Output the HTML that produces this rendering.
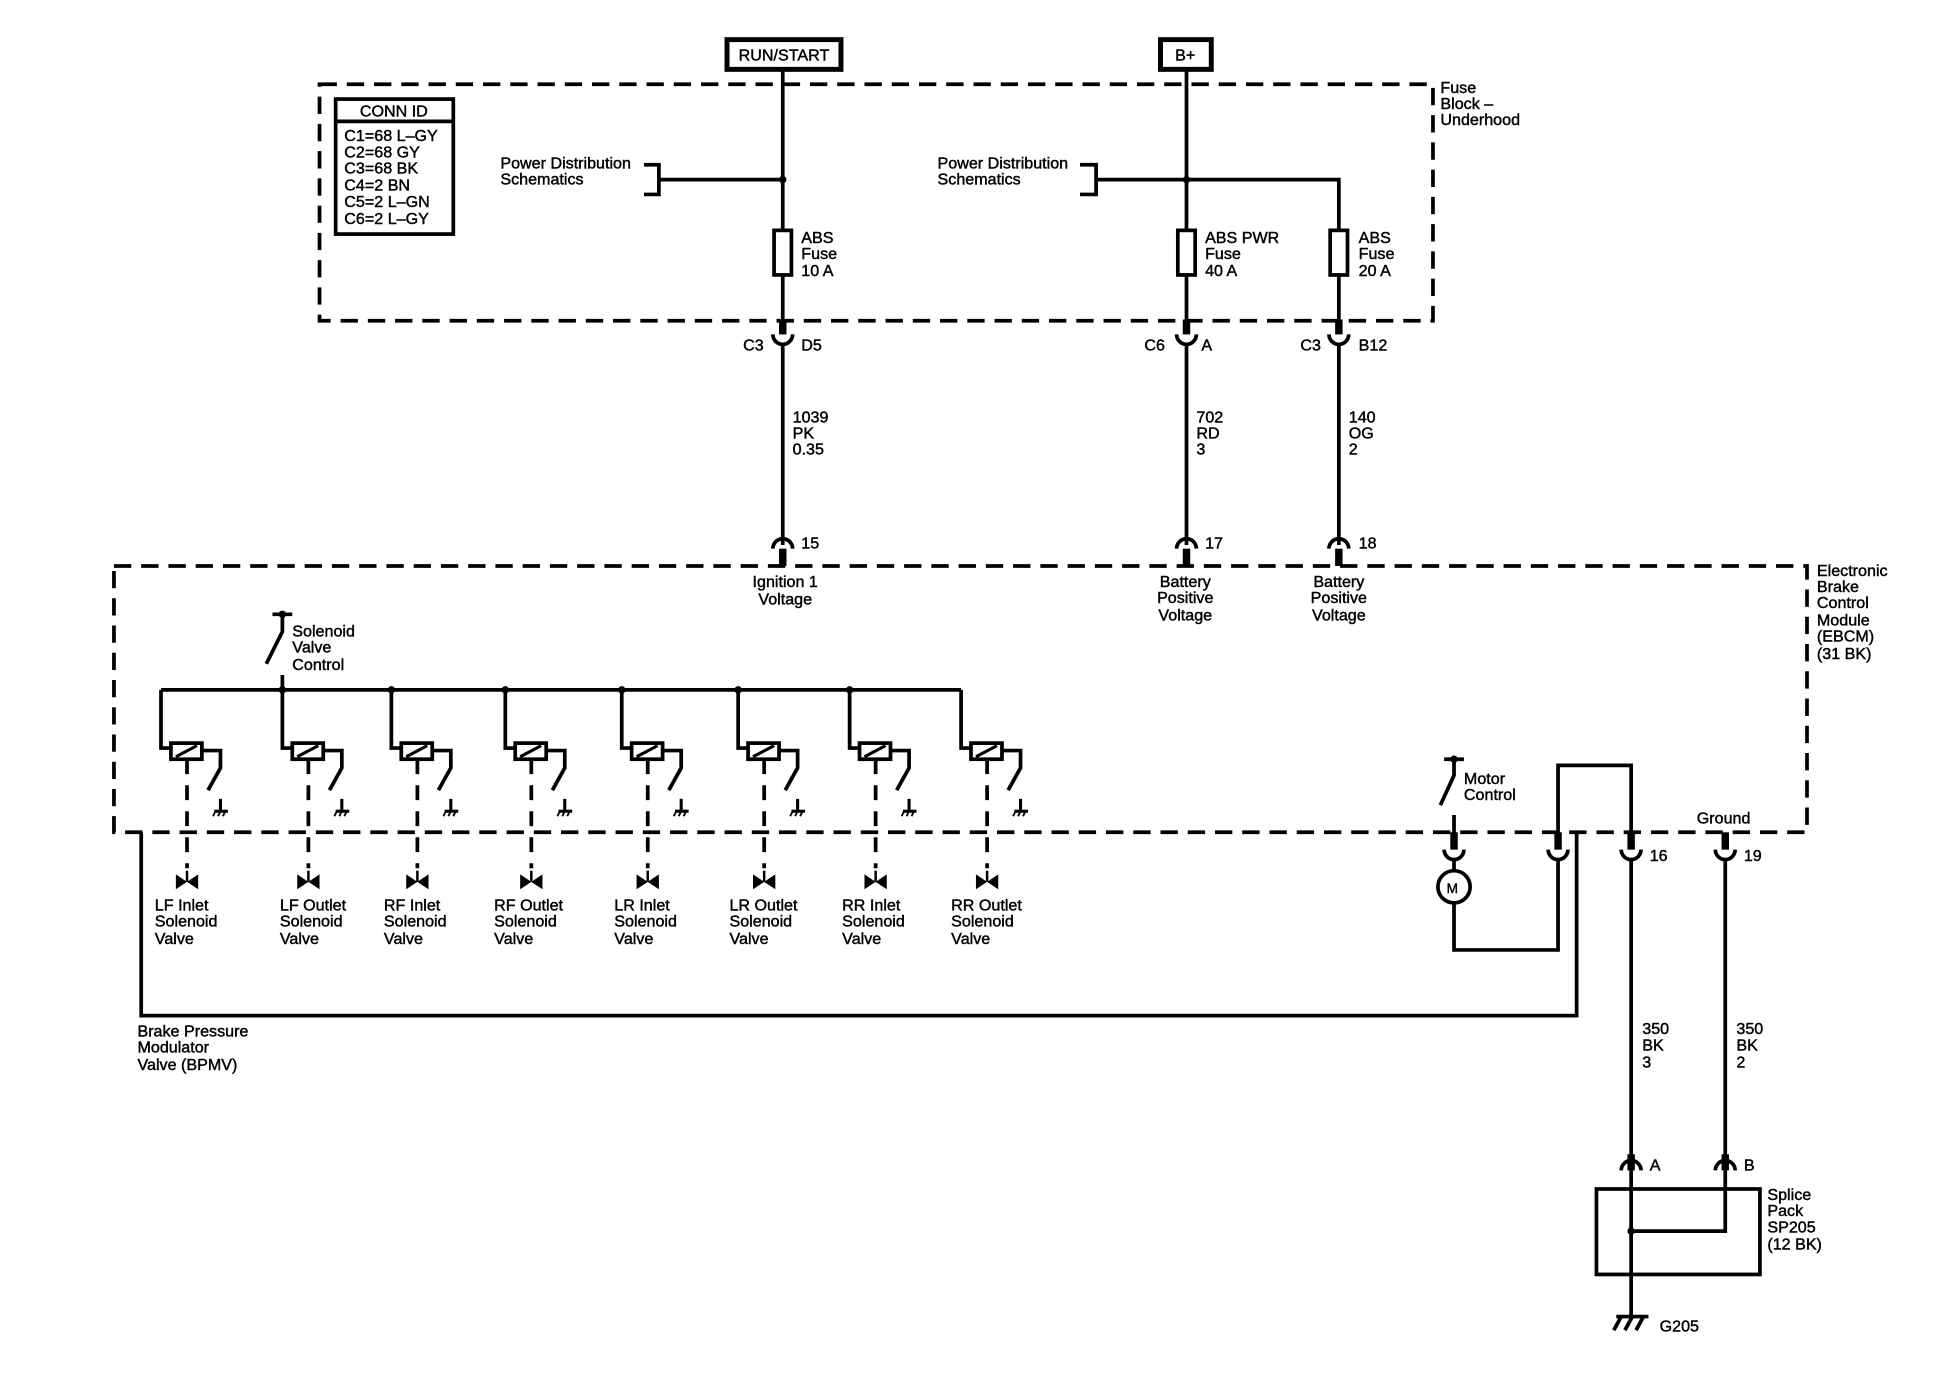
<!DOCTYPE html>
<html><head><meta charset="utf-8"><style>
html,body{margin:0;padding:0;background:#fff}
svg{display:block}
text{font-family:"Liberation Sans",sans-serif;font-size:13px;fill:#000;stroke:#000;stroke-width:0.35}
</style></head><body>
<svg width="1942" height="1376" viewBox="0 0 1568 1111" preserveAspectRatio="none" xmlns="http://www.w3.org/2000/svg">
<defs>
<g id="sol">
 <path d="M0,0 V47 H8" fill="none" stroke="#000" stroke-width="3"/>
 <rect x="8" y="43" width="25" height="13" fill="none" stroke="#000" stroke-width="3"/>
 <line x1="12" y1="54" x2="29" y2="45" stroke="#000" stroke-width="2.5"/>
 <path d="M33,49 H48 V63 L38,81" fill="none" stroke="#000" stroke-width="3"/>
 <line x1="48" y1="88" x2="48" y2="98" stroke="#000" stroke-width="2.5"/>
 <line x1="43" y1="98" x2="54" y2="98" stroke="#000" stroke-width="2.5"/>
 <line x1="44" y1="98" x2="42" y2="102" stroke="#000" stroke-width="1.5"/>
 <line x1="48" y1="98" x2="46" y2="102" stroke="#000" stroke-width="1.5"/>
 <line x1="52" y1="98" x2="50" y2="102" stroke="#000" stroke-width="1.5"/>
 <line x1="21" y1="56" x2="21" y2="144" stroke="#000" stroke-width="3" stroke-dasharray="12,9"/>
 <path d="M12,149 L21,155 L12,161 Z M30,149 L21,155 L30,161 Z" fill="#000"/>
 <line x1="21" y1="146" x2="21" y2="155" stroke="#000" stroke-width="2"/>
</g>
</defs>
<g fill="none" stroke="#000" stroke-width="3">
 <!-- top boxes -->
 <rect x="587" y="32" width="92" height="24" stroke-width="4"/>
 <rect x="937" y="32" width="41" height="24" stroke-width="4"/>
 <!-- dashed rects -->
 <rect x="258" y="68" width="899" height="191" stroke-dasharray="14,8"/>
 <rect x="92" y="457" width="1367" height="215" stroke-dasharray="14,8"/>
 <!-- conn id -->
 <rect x="271" y="80" width="95" height="109"/>
 <line x1="271" y1="98" x2="366" y2="98"/>
 <!-- main wires -->
 <line x1="632" y1="56" x2="632" y2="186"/>
 <line x1="632" y1="222" x2="632" y2="263"/>
 <line x1="958" y1="56" x2="958" y2="186"/>
 <line x1="958" y1="222" x2="958" y2="263"/>
 <path d="M885,145 H1081 V186"/>
 <line x1="1081" y1="222" x2="1081" y2="263"/>
 <path d="M520,133 H532 V157 H520 M532,145 H632"/>
 <path d="M872,133 H885 V157 H872"/>
 <rect x="625" y="186" width="14" height="36"/>
 <rect x="951" y="186" width="14" height="36"/>
 <rect x="1074" y="186" width="14" height="36"/>
 <!-- upper connectors -->
 <path d="M624,270 A8,8 0 0 0 640,270 M950,270 A8,8 0 0 0 966,270 M1073,270 A8,8 0 0 0 1089,270"/>
 <line x1="632" y1="278" x2="632" y2="440"/>
 <line x1="958" y1="278" x2="958" y2="440"/>
 <line x1="1081" y1="278" x2="1081" y2="440"/>
 <path d="M624,443 A8,8 0 0 1 640,443 M950,443 A8,8 0 0 1 966,443 M1073,443 A8,8 0 0 1 1089,443"/>
 <!-- solenoid bus -->
 <line x1="130" y1="557" x2="776" y2="557"/>
 <path d="M220,496 H236 M228,496 V510 L215,536 M228,545 V557"/>
 <!-- BPMV wire -->
 <path d="M114,672 V820 H1273 V672"/>
 <!-- motor -->
 <path d="M1166,613 H1182 M1174,613 V626 L1163,650 M1174,658 V680"/>
 <path d="M1166,686 A8,8 0 0 0 1182,686 M1250,686 A8,8 0 0 0 1266,686 M1309,686 A8,8 0 0 0 1325,686 M1385,686 A8,8 0 0 0 1401,686"/>
 <circle cx="1174" cy="716" r="13"/>
 <path d="M1174,694 V703 M1174,729 V767 H1258 V694"/>
 <path d="M1258,680 V618 H1317 V680"/>
 <line x1="1317" y1="694" x2="1317" y2="940"/>
 <line x1="1393" y1="694" x2="1393" y2="940"/>
 <path d="M1309,945 A8,8 0 0 1 1325,945 M1385,945 A8,8 0 0 1 1401,945"/>
 <rect x="1289" y="960" width="132" height="69"/>
 <path d="M1317,945 V1063 M1317,994 H1393 V945"/>
 <path d="M1305,1063 H1331 M1309,1063 L1303,1074 M1318,1063 L1312,1074 M1327,1063 L1321,1074"/>
</g>
<g fill="#000">
 <circle cx="632" cy="145" r="3"/><circle cx="958" cy="145" r="3"/>
 <circle cx="228" cy="557" r="3"/><circle cx="316" cy="557" r="3"/><circle cx="408" cy="557" r="3"/>
 <circle cx="502" cy="557" r="3"/><circle cx="596" cy="557" r="3"/><circle cx="686" cy="557" r="3"/>
 <circle cx="228" cy="496" r="3"/><circle cx="1174" cy="613" r="3"/><circle cx="1317" cy="994" r="3"/>
 <!-- thick stubs -->
 <rect x="629" y="258" width="6" height="12"/><rect x="955" y="258" width="6" height="12"/><rect x="1078" y="258" width="6" height="12"/>
 <rect x="629" y="443" width="6" height="14"/><rect x="955" y="443" width="6" height="14"/><rect x="1078" y="443" width="6" height="14"/>
 <rect x="1171" y="672" width="6" height="14"/><rect x="1255" y="672" width="6" height="14"/><rect x="1314" y="672" width="6" height="14"/><rect x="1390" y="672" width="6" height="14"/>
 <rect x="1314" y="932" width="6" height="13"/><rect x="1390" y="932" width="6" height="13"/>
</g>
<use href="#sol" x="130" y="557"/><use href="#sol" x="228" y="557"/><use href="#sol" x="316" y="557"/><use href="#sol" x="408" y="557"/>
<use href="#sol" x="502" y="557"/><use href="#sol" x="596" y="557"/><use href="#sol" x="686" y="557"/><use href="#sol" x="776" y="557"/>
<!-- text -->
<text x="633" y="49" text-anchor="middle">RUN/START</text>
<text x="957" y="49" text-anchor="middle">B+</text>
<text x="318" y="94" text-anchor="middle">CONN ID</text>
<text x="278" y="114">C1=68 L–GY</text><text x="278" y="127">C2=68 GY</text><text x="278" y="140">C3=68 BK</text>
<text x="278" y="154">C4=2 BN</text><text x="278" y="167">C5=2 L–GN</text><text x="278" y="181">C6=2 L–GY</text>
<text x="404" y="136">Power Distribution</text><text x="404" y="149">Schematics</text>
<text x="757" y="136">Power Distribution</text><text x="757" y="149">Schematics</text>
<text x="1163" y="75">Fuse</text><text x="1163" y="88">Block –</text><text x="1163" y="101">Underhood</text>
<text x="647" y="196">ABS</text><text x="647" y="209">Fuse</text><text x="647" y="223">10 A</text>
<text x="973" y="196">ABS PWR</text><text x="973" y="209">Fuse</text><text x="973" y="223">40 A</text>
<text x="1097" y="196">ABS</text><text x="1097" y="209">Fuse</text><text x="1097" y="223">20 A</text>
<text x="600" y="283">C3</text><text x="647" y="283">D5</text>
<text x="924" y="283">C6</text><text x="970" y="283">A</text>
<text x="1050" y="283">C3</text><text x="1097" y="283">B12</text>
<text x="640" y="341">1039</text><text x="640" y="354">PK</text><text x="640" y="367">0.35</text>
<text x="966" y="341">702</text><text x="966" y="354">RD</text><text x="966" y="367">3</text>
<text x="1089" y="341">140</text><text x="1089" y="354">OG</text><text x="1089" y="367">2</text>
<text x="647" y="443">15</text><text x="973" y="443">17</text><text x="1097" y="443">18</text>
<text x="634" y="474" text-anchor="middle">Ignition 1</text><text x="634" y="488" text-anchor="middle">Voltage</text>
<text x="957" y="474" text-anchor="middle">Battery</text><text x="957" y="487" text-anchor="middle">Positive</text><text x="957" y="501" text-anchor="middle">Voltage</text>
<text x="1081" y="474" text-anchor="middle">Battery</text><text x="1081" y="487" text-anchor="middle">Positive</text><text x="1081" y="501" text-anchor="middle">Voltage</text>
<text x="1467" y="465">Electronic</text><text x="1467" y="478">Brake</text><text x="1467" y="491">Control</text>
<text x="1467" y="505">Module</text><text x="1467" y="518">(EBCM)</text><text x="1467" y="532">(31 BK)</text>
<text x="236" y="514">Solenoid</text><text x="236" y="527">Valve</text><text x="236" y="541">Control</text>
<text x="125" y="735">LF Inlet</text><text x="125" y="748">Solenoid</text><text x="125" y="762">Valve</text>
<text x="226" y="735">LF Outlet</text><text x="226" y="748">Solenoid</text><text x="226" y="762">Valve</text>
<text x="310" y="735">RF Inlet</text><text x="310" y="748">Solenoid</text><text x="310" y="762">Valve</text>
<text x="399" y="735">RF Outlet</text><text x="399" y="748">Solenoid</text><text x="399" y="762">Valve</text>
<text x="496" y="735">LR Inlet</text><text x="496" y="748">Solenoid</text><text x="496" y="762">Valve</text>
<text x="589" y="735">LR Outlet</text><text x="589" y="748">Solenoid</text><text x="589" y="762">Valve</text>
<text x="680" y="735">RR Inlet</text><text x="680" y="748">Solenoid</text><text x="680" y="762">Valve</text>
<text x="768" y="735">RR Outlet</text><text x="768" y="748">Solenoid</text><text x="768" y="762">Valve</text>
<text x="111" y="837">Brake Pressure</text><text x="111" y="850">Modulator</text><text x="111" y="864">Valve (BPMV)</text>
<text x="1182" y="633">Motor</text><text x="1182" y="646">Control</text>
<text x="1370" y="665">Ground</text>
<text x="1332" y="695">16</text><text x="1408" y="695">19</text>
<text x="1168" y="721" style="font-size:11px">M</text>
<text x="1326" y="835">350</text><text x="1326" y="848">BK</text><text x="1326" y="862">3</text>
<text x="1402" y="835">350</text><text x="1402" y="848">BK</text><text x="1402" y="862">2</text>
<text x="1332" y="945">A</text><text x="1408" y="945">B</text>
<text x="1427" y="969">Splice</text><text x="1427" y="982">Pack</text><text x="1427" y="995">SP205</text><text x="1427" y="1009">(12 BK)</text>
<text x="1340" y="1075">G205</text>
</svg>
</body></html>
